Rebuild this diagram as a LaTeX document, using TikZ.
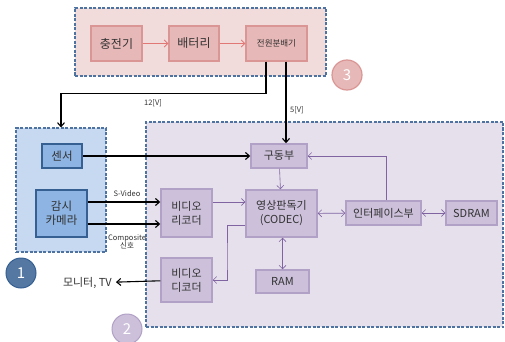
\documentclass[tikz,border=0pt]{standalone}
\usepackage{fontspec}
\setmainfont{Noto Sans CJK KR}
\usetikzlibrary{arrows.meta}
\definecolor{grpline}{RGB}{79,115,160}
\definecolor{pinkbg}{RGB}{242,220,219}
\definecolor{pinkfill}{RGB}{230,184,183}
\definecolor{pinkline}{RGB}{217,150,148}
\definecolor{bluebg}{RGB}{198,217,240}
\definecolor{bluefill}{RGB}{141,180,226}
\definecolor{blueline}{RGB}{54,96,146}
\definecolor{purpbg}{RGB}{229,224,236}
\definecolor{purpfill}{RGB}{204,192,218}
\definecolor{purpline}{RGB}{178,161,199}
\definecolor{purparrow}{RGB}{128,100,162}
\definecolor{txt}{RGB}{50,50,50}
\tikzset{
  grp/.style={draw=grpline, line width=1.1pt, dash pattern=on 3pt off 1.5pt, inner sep=0pt},
  pbox/.style={draw=pinkline, fill=pinkfill, line width=1.5pt, inner sep=0pt, align=center, text=txt, font=\fontsize{12}{13}\selectfont},
  bbox/.style={draw=blueline, fill=bluefill, line width=1.3pt, inner sep=0pt, align=center, text=txt, font=\fontsize{11.5}{14}\selectfont},
  vbox/.style={draw=purpline, fill=purpfill, line width=1.5pt, inner sep=0pt, align=center, text=txt, font=\fontsize{11}{14}\selectfont},
  badge/.style={circle, minimum size=30pt, inner sep=0pt, text=white, font=\fontsize{15}{15}\selectfont},
  blk/.style={draw=black, line width=1.1pt, -{Straight Barb[length=4pt,width=7pt,line width=1.1pt]}},
  pur/.style={draw=purparrow, line width=0.6pt, -{Straight Barb[length=3.5pt,width=7pt]}},
  pur2/.style={draw=purparrow, line width=0.6pt, {Straight Barb[length=3.5pt,width=7pt]}-{Straight Barb[length=3.5pt,width=7pt]}},
  pnk/.style={draw=pinkline!80!red, line width=0.8pt, -{Straight Barb[length=3.5pt,width=7pt]}},
  lbl/.style={font=\fontsize{7.5}{8.5}\selectfont, text=txt, inner sep=0pt, align=center}
}
\begin{document}
\begin{tikzpicture}[x=1pt,y=-1pt]
\useasboundingbox (0,0) rectangle (505,342);
% group boxes
\node[grp, fill=pinkbg, minimum width=251pt, minimum height=68pt] (pinkgrp) at (200.5,42) {};
\node[grp, fill=bluebg, minimum width=90pt, minimum height=124pt] (bluegrp) at (61,190) {};
\node[grp, fill=purpbg, minimum width=357pt, minimum height=205pt] (purpgrp) at (324.5,224.5) {};
% badges
\node[badge, fill=pinkfill, draw=pinkline, line width=1.2pt] (b3) at (347,75) {3};
\node[badge, fill=blueline!85!white, draw=blueline, line width=1pt] (b1) at (21,273) {1};
\node[badge, fill=purpfill, draw=purpline, line width=1pt] (b2) at (127,329) {2};
% power group
\node[pbox, minimum width=51pt, minimum height=35pt] (chg) at (116.5,43.5) {충전기};
\node[pbox, minimum width=50pt, minimum height=35pt] (bat) at (194,43.5) {배터리};
\node[pbox, minimum width=61pt, minimum height=35pt, font=\fontsize{8.5}{9}\selectfont] (pd) at (276.5,43.5) {전원분배기};
% blue group
\node[bbox, minimum width=40pt, minimum height=24pt] (sen) at (62,156) {센서};
\node[bbox, minimum width=51pt, minimum height=47pt] (cam) at (61.5,213.5) {감시\\카메라};
% purple group
\node[vbox, minimum width=56pt, minimum height=24pt] (drv) at (279,156) {구동부};
\node[vbox, minimum width=71pt, minimum height=47pt] (codec) at (281.5,213.5) {영상판독기\\(CODEC)};
\node[vbox, minimum width=75pt, minimum height=24pt] (intf) at (383.5,213) {인터페이스부};
\node[vbox, minimum width=51pt, minimum height=24pt] (sdram) at (471.5,213) {SDRAM};
\node[vbox, minimum width=53pt, minimum height=23pt] (ram) at (282.5,281.5) {RAM};
\node[vbox, minimum width=51pt, minimum height=48pt] (rec) at (186.5,213) {비디오\\리코더};
\node[vbox, minimum width=51pt, minimum height=44pt] (dec) at (186.5,280) {비디오\\디코더};
\node[text=txt, font=\fontsize{11}{12}\selectfont, anchor=east, inner sep=0pt, inner xsep=4pt] (mon) at (116,283) {모니터, TV};
% labels
\node[lbl] (l12) at (153,103) {12[V]};
\node[lbl] (l5) at (297,110) {5[V]};
\node[lbl] (lsv) at (127,194) {S-Video};
\node[lbl] (lcp) at (127,242) {Composite\\신호};
% power arrows
\draw[pnk] (chg) -- (bat);
\draw[pnk] (bat) -- (pd);
\draw[blk] ([xshift=-10.5pt]pd.south) -- ++(0,32) -| (bluegrp.north);
\draw[blk] ([xshift=9.5pt]pd.south) -- ([xshift=9.5pt]pd.south |- drv.north);
% signals
\draw[blk] (sen) -- (drv);
\draw[blk] (cam.east |- 0,202) -- (rec.west |- 0,202);
\draw[blk] (cam.east |- 0,224) -- (rec.west |- 0,224);
\draw[blk] (dec) -- (mon);
\draw[pur] (rec.east |- 0,202) -- (codec.west |- 0,202);
\draw[pur] (drv) -- (codec);
\draw[pur2] (codec) -- (intf);
\draw[pur2] (intf) -- (sdram);
\draw[pur2] (codec.south -| ram) -- (ram);
\draw[pur] (intf.north -| 386,0) |- (drv.east);
\draw[pur] (codec.west |- 0,225) -| (227,260) |- (dec.east);
\end{tikzpicture}
\end{document}
